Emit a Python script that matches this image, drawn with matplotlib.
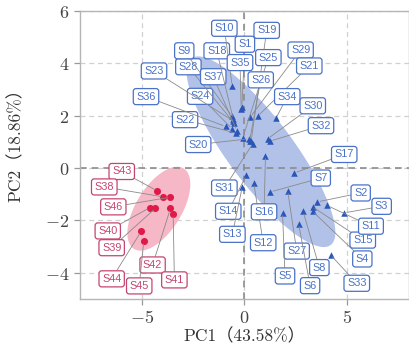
import matplotlib
matplotlib.use('Agg')
import matplotlib.pyplot as plt
import numpy as np

plt.rcParams['mathtext.fontset'] = 'cm'

# 数据：PCA得分
red_names = ['S43', 'S38', 'S46', 'S40', 'S39', 'S42', 'S44', 'S41', 'S45']
red_x = [-4.27, -3.95, -3.60, -4.60, -4.34, -3.60, -5.03, -3.47, -4.90]
red_y = [-0.86, -1.10, -1.11, -1.51, -1.54, -1.54, -2.42, -1.76, -2.80]

blue_names = ['S29', 'S21', 'S34', 'S30', 'S32', 'S31', 'S20', 'S22', 'S36', 'S24',
              'S23', 'S28', 'S9', 'S37', 'S18', 'S10', 'S1', 'S35', 'S19', 'S25', 'S26',
              'S17', 'S7', 'S14', 'S13', 'S12', 'S16', 'S27', 'S5', 'S6', 'S8', 'S4',
              'S15', 'S11', 'S2', 'S3', 'S33']
blue_x = [0.27, 0.65, 1.53, 1.13, 1.24, 0.40, 0.21, -0.40, -0.92, -0.60,
          -0.56, -0.50, -0.61, -0.37, -0.55, -0.60, -0.13, -0.16, 0.32, -0.08, 0.25,
          2.42, 1.26, 0.08, -0.11, 0.45, 1.02, 2.10, 1.85, 2.63, 2.85, 3.31,
          3.31, 4.00, 3.55, 4.84, 4.19]
blue_y = [1.94, 1.99, 1.90, 1.12, 1.03, 0.93, 1.12, 1.33, 1.59, 1.50,
          1.81, 1.71, 1.98, 1.43, 1.88, 3.14, 2.35, 2.26, 1.02, 1.16, 1.05,
          -0.19, -0.91, -0.28, -0.72, -0.57, 0.48, -0.87, -1.71, -2.12, -1.65, -1.65,
          -1.48, -1.42, -1.29, -1.71, -3.32]

# 标签位置
label_pos = {
    'S43': (-5.97, -0.13), 'S38': (-6.82, -0.72), 'S46': (-6.38, -1.48),
    'S40': (-6.65, -2.40), 'S39': (-6.46, -3.04), 'S42': (-4.47, -3.70),
    'S44': (-6.46, -4.23), 'S41': (-3.41, -4.27), 'S45': (-5.12, -4.50),
    'S10': (-0.98, 5.34), 'S19': (1.08, 5.26), 'S1': (0.02, 4.73), 'S9': (-2.93, 4.48),
    'S18': (-1.35, 4.48), 'S25': (1.16, 4.22), 'S29': (2.73, 4.51), 'S35': (-0.22, 4.03),
    'S28': (-2.73, 3.87), 'S23': (-4.40, 3.71), 'S37': (-1.52, 3.49), 'S26': (0.79, 3.37),
    'S21': (3.15, 3.90), 'S36': (-4.79, 2.73), 'S24': (-2.16, 2.74), 'S34': (2.08, 2.73),
    'S30': (3.32, 2.38), 'S22': (-2.89, 1.85), 'S32': (3.72, 1.62), 'S20': (-2.25, 0.90),
    'S17': (4.85, 0.52), 'S7': (3.71, -0.38), 'S31': (-0.98, -0.76), 'S2': (5.65, -0.95),
    'S3': (6.67, -1.46), 'S14': (-0.79, -1.65), 'S16': (0.95, -1.67), 'S11': (6.15, -2.22),
    'S15': (5.75, -2.75), 'S13': (-0.59, -2.53), 'S12': (0.91, -2.85), 'S27': (2.54, -3.17),
    'S4': (5.73, -3.47), 'S8': (3.64, -3.80), 'S5': (1.97, -4.12), 'S33': (5.46, -4.40),
    'S6': (3.19, -4.49),
}

blue_c = '#2a56b8'
blue_fill = '#b2c1e7'
blue_edge = '#4a72c8'
red_c = '#e01a48'
red_fill = '#f6b8c7'
red_edge = '#c4466e'


def t_ellipse(x, y, level=0.95, nu=5, segs=100):
    # 类似 stat_ellipse(type='t')：cov.trob 稳健协方差
    X = np.column_stack([x, y])
    n, p = X.shape
    loc = X.mean(axis=0)
    cov = np.cov(X.T)
    for _ in range(200):
        d = X - loc
        dist = np.einsum('ij,jk,ik->i', d, np.linalg.inv(cov), d)
        w = (nu + p) / (nu + dist)
        loc_new = (w[:, None] * X).sum(axis=0) / w.sum()
        d = X - loc_new
        cov = (w[:, None] * d).T @ d / n
        if np.allclose(loc_new, loc, atol=1e-9):
            loc = loc_new
            break
        loc = loc_new
    dfd = n - 1
    qf = dfd / 2 * ((1 - level) ** (-2 / dfd) - 1)
    r = np.sqrt(2 * qf)
    t = np.linspace(0, 2 * np.pi, segs)
    circ = np.column_stack([np.cos(t), np.sin(t)])
    pts = loc + r * circ @ np.linalg.cholesky(cov).T
    return pts[:, 0], pts[:, 1]


fig = plt.figure(figsize=(4.1, 3.47), dpi=100)
ax = fig.add_axes([80/410, 1-299/347, 329/410, 288/347])

ex, ey = t_ellipse(blue_x, blue_y)
ax.fill(ex, ey, color=blue_fill, lw=0, zorder=1)
ex, ey = t_ellipse(red_x, red_y)
ax.fill(ex, ey, color=red_fill, lw=0, zorder=1)

ax.axhline(0, color='#8c8c8c', ls=(0, (4, 3)), lw=1.2, zorder=2)
ax.axvline(0, color='#8c8c8c', ls=(0, (4, 3)), lw=1.2, zorder=2)

ax.scatter(blue_x, blue_y, marker='^', s=22, color=blue_c, zorder=3, lw=0)
ax.scatter(red_x, red_y, marker='o', s=26, color=red_c, zorder=3, lw=0)

for names, xs, ys, c in [(blue_names, blue_x, blue_y, blue_edge), (red_names, red_x, red_y, red_edge)]:
    for n, px, py in zip(names, xs, ys):
        tx, ty = label_pos[n]
        ax.annotate(n, (px, py), xytext=(tx, ty), ha='center', va='center',
                    fontsize=7.8, family='Liberation Sans', color=c, zorder=4,
                    bbox=dict(boxstyle='round,pad=0.28,rounding_size=0.25', fc='white', ec=c, lw=0.9),
                    arrowprops=dict(arrowstyle='-', color='#8a8a8a', lw=0.6, shrinkA=0, shrinkB=2))

ax.set_xlim(-8, 8)
ax.set_ylim(-5, 6)
xt = [-5, 0, 5]
yt = [-4, -2, 0, 2, 4, 6]
ax.set_xticks(xt)
ax.set_yticks(yt)
ax.set_xticklabels([f'${v}$' for v in xt])
ax.set_yticklabels([f'${v}$' for v in yt])
ax.grid(True, color='#d0d0d0', ls=(0, (4, 3)), lw=0.9, zorder=0)
ax.set_axisbelow(True)
for s in ax.spines.values():
    s.set_color('#b5b5b5')
    s.set_linewidth(1.0)
ax.tick_params(colors='#444444', labelsize=13, length=4, width=0.9, color='#999999')

ax.set_xlabel('PC1（43.58%）', fontsize=12.5, family=['cmr10', 'Noto Sans CJK SC'], color='#333333', labelpad=0)
ax.set_ylabel('PC2（18.86%）', fontsize=12.5, family=['cmr10', 'Noto Sans CJK SC'], color='#333333', labelpad=6)
ax.yaxis.set_label_coords(-0.17, 0.55)

fig.savefig('out.png', dpi=100)
